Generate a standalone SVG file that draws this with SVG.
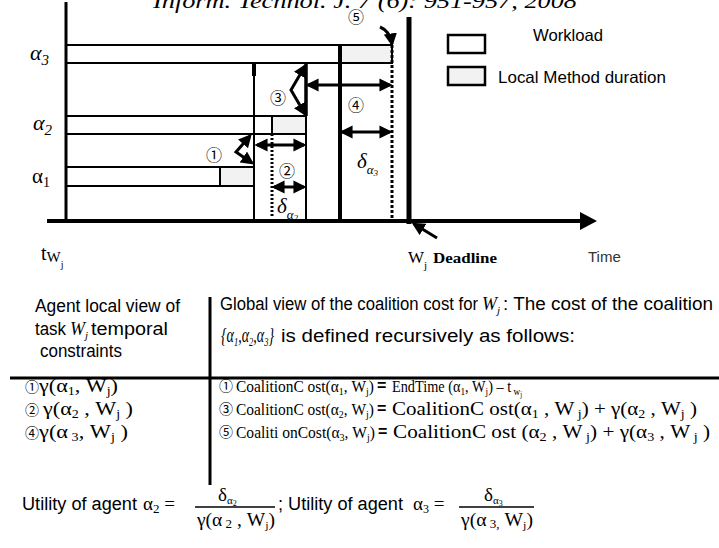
<svg xmlns="http://www.w3.org/2000/svg" width="719" height="548" viewBox="0 0 719 548">
<defs>
<marker id="ah" viewBox="0 0 10 10" refX="8" refY="5" markerWidth="4.4" markerHeight="4.4" orient="auto-start-reverse" markerUnits="strokeWidth">
<path d="M0,0 L10,5 L0,10 z" fill="#000"/>
</marker>
<style>
.sans{font-family:"Liberation Sans",Arial,sans-serif;fill:#000}
.serif{font-family:"Liberation Serif","Times New Roman",serif;fill:#000}
.cj{font-family:"Noto Sans CJK JP","Noto Sans CJK SC",sans-serif;fill:#000}
.bar{stroke:#000;stroke-width:2;fill:#fff}
.lm{stroke:#000;stroke-width:2;fill:#f2f2f2}
.arr{stroke:#000;stroke-width:3;fill:none;marker-end:url(#ah)}
.dbl{marker-start:url(#ah)}
.it{font-style:italic}
</style>
</defs>
<rect width="719" height="548" fill="#fff"/>
<text class="serif it" x="153" y="8" font-size="22" textLength="424" lengthAdjust="spacingAndGlyphs">Inform. Technol. J. 7 (6): 951-957, 2008</text>

<g id="bar-a3">
<rect class="bar" x="66" y="45" width="274" height="18"/>
<rect class="lm" x="340" y="45" width="52" height="18"/>
</g>
<g id="bar-a2">
<rect class="bar" x="66" y="116" width="206" height="18"/>
<rect class="lm" x="272" y="116" width="34" height="18"/>
</g>
<g id="bar-a1">
<rect class="bar" x="66" y="167" width="154" height="19"/>
<rect class="lm" x="220" y="167" width="34" height="19"/>
</g>

<g id="guides" stroke="#000" fill="none">
<line x1="254" y1="63" x2="254" y2="221" stroke-width="2"/>
<line x1="254" y1="63" x2="254" y2="76" stroke-width="4"/>
<line x1="272" y1="134" x2="272" y2="218" stroke-width="3" stroke-dasharray="2 2"/>
<line x1="306" y1="63" x2="306" y2="221" stroke-width="2"/>
<line x1="306" y1="63" x2="306" y2="116" stroke-width="3.5"/>
<line x1="340" y1="45" x2="340" y2="221" stroke-width="4"/>
<line x1="392" y1="45" x2="392" y2="221" stroke-width="3" stroke-dasharray="3 2"/>
<line x1="409" y1="17" x2="409" y2="224" stroke-width="5"/>
</g>

<g id="y-labels">
<text class="serif it" x="30" y="60" font-size="22">α<tspan font-size="15" dy="5">3</tspan></text>
<text class="serif it" x="33" y="130" font-size="22">α<tspan font-size="15" dy="5">2</tspan></text>
<text class="serif" x="32" y="183" font-size="21">α<tspan font-size="14" dy="4">1</tspan></text>
</g>

<g id="deltas">
<text class="serif it" x="357" y="168" font-size="21">δ<tspan font-size="13" dy="6">α</tspan><tspan font-size="9" dy="2">3</tspan></text>
<text class="serif it" x="277" y="213" font-size="21">δ<tspan font-size="13" dy="6">α</tspan><tspan font-size="9" dy="2">2</tspan></text>
</g>

<g id="axes" stroke="#000">
<line x1="66" y1="2" x2="66" y2="221" stroke-width="3"/>
<line x1="47" y1="221" x2="582" y2="221" stroke-width="4"/>
<polygon points="580,212 597,221 580,230" fill="#000" stroke="none"/>
</g>

<g id="connectors">
<path class="arr" d="M380,27 Q390,31 392,44"/>
<path class="arr dbl" d="M305,66 L291,90 L305,114"/>
<line class="arr dbl" x1="308" y1="85" x2="390" y2="85"/>
<line class="arr dbl" x1="342" y1="132" x2="390" y2="132"/>
<path class="arr dbl" d="M250,136 L236,152 L252,163"/>
<line class="arr dbl" x1="257" y1="145" x2="304" y2="145"/>
<line class="arr dbl" x1="274" y1="187" x2="304" y2="187"/>
<line class="arr" x1="437" y1="238" x2="414" y2="224"/>
</g>

<g id="step-labels" class="cj" font-size="16" text-anchor="middle" dominant-baseline="central">
<text x="356" y="16">⑤</text>
<text x="278" y="97">③</text>
<text x="356" y="104">④</text>
<text x="214" y="154">①</text>
<text x="287" y="170">②</text>
</g>

<g id="axis-labels">
<text class="serif" x="41" y="260" font-size="20">t<tspan font-size="15" dy="2">W</tspan><tspan font-size="10" dy="6">j</tspan></text>
<text class="serif" x="408" y="263" font-size="17">W<tspan font-size="11" dy="6">j</tspan></text>
<text class="serif" x="433" y="263" font-size="15" font-weight="bold" textLength="64" lengthAdjust="spacingAndGlyphs">Deadline</text>
<text class="sans" x="588" y="262" font-size="15" style="fill:#333">Time</text>
</g>

<g id="legend">
<rect x="448" y="35" width="37" height="18" fill="#fff" stroke="#000" stroke-width="2.5"/>
<rect x="448" y="67" width="37" height="18" fill="#f2f2f2" stroke="#000" stroke-width="2.5"/>
<text class="sans" x="533" y="41" font-size="16.5" textLength="70" lengthAdjust="spacingAndGlyphs">Workload</text>
<text class="sans" x="498" y="83" font-size="16.5" textLength="168" lengthAdjust="spacingAndGlyphs">Local Method duration</text>
</g>

<g id="table">
<line x1="10" y1="378" x2="719" y2="378" stroke="#000" stroke-width="3"/>
<line x1="210" y1="297" x2="210" y2="485" stroke="#000" stroke-width="3"/>
<text class="sans" x="35" y="312" font-size="17.5" textLength="145" lengthAdjust="spacingAndGlyphs">Agent local view of</text>
<text class="sans" x="35" y="335" font-size="17.5" textLength="31" lengthAdjust="spacingAndGlyphs">task</text>
<text class="serif it" x="70" y="335" font-size="18">W<tspan font-size="11" dy="4">j</tspan></text>
<text class="sans" x="91" y="335" font-size="17.5" textLength="77" lengthAdjust="spacingAndGlyphs">temporal</text>
<text class="sans" x="40" y="357" font-size="17.5" textLength="82" lengthAdjust="spacingAndGlyphs">constraints</text>

<text class="sans" x="220" y="310" font-size="17.5" textLength="258" lengthAdjust="spacingAndGlyphs">Global view of the coalition cost for</text>
<text class="serif it" x="482" y="310" font-size="18">W<tspan font-size="11" dy="4">j</tspan></text>
<text class="sans" x="503" y="310" font-size="17.5" textLength="210" lengthAdjust="spacingAndGlyphs">: The cost of the coalition</text>
<text class="serif it" x="221" y="342" font-size="20" textLength="53" lengthAdjust="spacingAndGlyphs">{α<tspan font-size="12" dy="4">1</tspan><tspan dy="-4">,α</tspan><tspan font-size="12" dy="4">2</tspan><tspan dy="-4">,α</tspan><tspan font-size="12" dy="4">3</tspan><tspan dy="-4">}</tspan></text>
<text class="sans" x="281" y="342" font-size="17.5" textLength="294" lengthAdjust="spacingAndGlyphs">is defined recursively as follows:</text>

<text class="cj" x="25" y="392" font-size="14">①</text>
<text class="serif" x="39" y="392" font-size="19" textLength="79" lengthAdjust="spacingAndGlyphs">γ(α<tspan font-size="12" dy="3">1</tspan><tspan dy="-3">, W</tspan><tspan font-size="12" dy="3">j</tspan><tspan dy="-3">)</tspan></text>
<text class="cj" x="25" y="415" font-size="14">②</text>
<text class="serif" x="43" y="415" font-size="19" textLength="90" lengthAdjust="spacingAndGlyphs">γ(α<tspan font-size="12" dy="3">2</tspan><tspan dy="-3"> , W</tspan><tspan font-size="12" dy="3">j</tspan><tspan dy="-3"> )</tspan></text>
<text class="cj" x="25" y="438" font-size="14">④</text>
<text class="serif" x="39" y="438" font-size="19" textLength="89" lengthAdjust="spacingAndGlyphs">γ(α<tspan font-size="12" dy="3"> 3</tspan><tspan dy="-3">, W</tspan><tspan font-size="12" dy="3">j</tspan><tspan dy="-3"> )</tspan></text>

<text class="cj" x="219" y="391" font-size="14">①</text>
<text class="serif" x="236" y="392" font-size="17" textLength="138" lengthAdjust="spacingAndGlyphs">CoalitionC ost(α<tspan font-size="11" dy="3">1</tspan><tspan dy="-3">, W</tspan><tspan font-size="11" dy="3">j</tspan><tspan dy="-3">)</tspan></text>
<text class="sans" x="377" y="391" font-size="16" font-weight="bold">=</text>
<text class="serif" x="392" y="392" font-size="17" textLength="130" lengthAdjust="spacingAndGlyphs">EndTime (α<tspan font-size="11" dy="3">1</tspan><tspan dy="-3">, W</tspan><tspan font-size="11" dy="3">j</tspan><tspan dy="-3">) – t</tspan><tspan font-size="11" dy="3"> w</tspan><tspan font-size="8" dy="2">j</tspan></text>

<text class="cj" x="219" y="414" font-size="14">③</text>
<text class="serif" x="236" y="415" font-size="17" textLength="138" lengthAdjust="spacingAndGlyphs">CoalitionC ost(α<tspan font-size="11" dy="3">2</tspan><tspan dy="-3">, W</tspan><tspan font-size="11" dy="3">j</tspan><tspan dy="-3">)</tspan></text>
<text class="sans" x="377" y="414" font-size="16" font-weight="bold">=</text>
<text class="serif" x="392" y="415" font-size="18" textLength="305" lengthAdjust="spacingAndGlyphs">CoalitionC ost(α<tspan font-size="12" dy="3">1</tspan><tspan dy="-3"> , W</tspan><tspan font-size="12" dy="3"> j</tspan><tspan dy="-3">) + γ(α</tspan><tspan font-size="12" dy="3">2</tspan><tspan dy="-3"> , W</tspan><tspan font-size="12" dy="3">j</tspan><tspan dy="-3"> )</tspan></text>

<text class="cj" x="219" y="437" font-size="14">⑤</text>
<text class="serif" x="236" y="438" font-size="17" textLength="139" lengthAdjust="spacingAndGlyphs">Coaliti onCost(α<tspan font-size="11" dy="3">3</tspan><tspan dy="-3">, W</tspan><tspan font-size="11" dy="3">j</tspan><tspan dy="-3">)</tspan></text>
<text class="sans" x="378" y="437" font-size="16" font-weight="bold">=</text>
<text class="serif" x="393" y="438" font-size="18" textLength="317" lengthAdjust="spacingAndGlyphs">CoalitionC ost (α<tspan font-size="12" dy="3">2</tspan><tspan dy="-3"> , W</tspan><tspan font-size="12" dy="3"> j</tspan><tspan dy="-3">) + γ(α</tspan><tspan font-size="12" dy="3">3</tspan><tspan dy="-3"> , W</tspan><tspan font-size="12" dy="3"> j</tspan><tspan dy="-3"> )</tspan></text>
</g>

<g id="utility">
<text class="sans" x="22" y="510" font-size="18" textLength="115" lengthAdjust="spacingAndGlyphs">Utility of agent</text>
<text class="serif" x="143" y="510" font-size="19">α<tspan font-size="13" dy="3">2</tspan><tspan dy="-3"> =</tspan></text>
<line x1="195" y1="507" x2="275" y2="507" stroke="#000" stroke-width="1.3"/>
<text class="serif" x="218" y="501" font-size="19">δ<tspan font-size="11" dy="3">α</tspan><tspan font-size="8" dy="2">2</tspan></text>
<text class="serif" x="197" y="526" font-size="18" textLength="78" lengthAdjust="spacingAndGlyphs">γ(α<tspan font-size="12" dy="2"> 2</tspan><tspan dy="-2"> , W</tspan><tspan font-size="11" dy="3">j</tspan><tspan dy="-3">)</tspan></text>
<text class="sans" x="278" y="510" font-size="18" textLength="125" lengthAdjust="spacingAndGlyphs">; Utility of agent</text>
<text class="serif" x="413" y="510" font-size="19">α<tspan font-size="12" dy="3">3</tspan><tspan dy="-3"> =</tspan></text>
<line x1="459" y1="507" x2="534" y2="507" stroke="#000" stroke-width="1.3"/>
<text class="serif" x="484" y="501" font-size="19">δ<tspan font-size="11" dy="3">α</tspan><tspan font-size="8" dy="2">3</tspan></text>
<text class="serif" x="461" y="526" font-size="18" textLength="72" lengthAdjust="spacingAndGlyphs">γ(α<tspan font-size="12" dy="2"> 3,</tspan><tspan dy="-2"> W</tspan><tspan font-size="11" dy="3">j</tspan><tspan dy="-3">)</tspan></text>
</g>
</svg>
